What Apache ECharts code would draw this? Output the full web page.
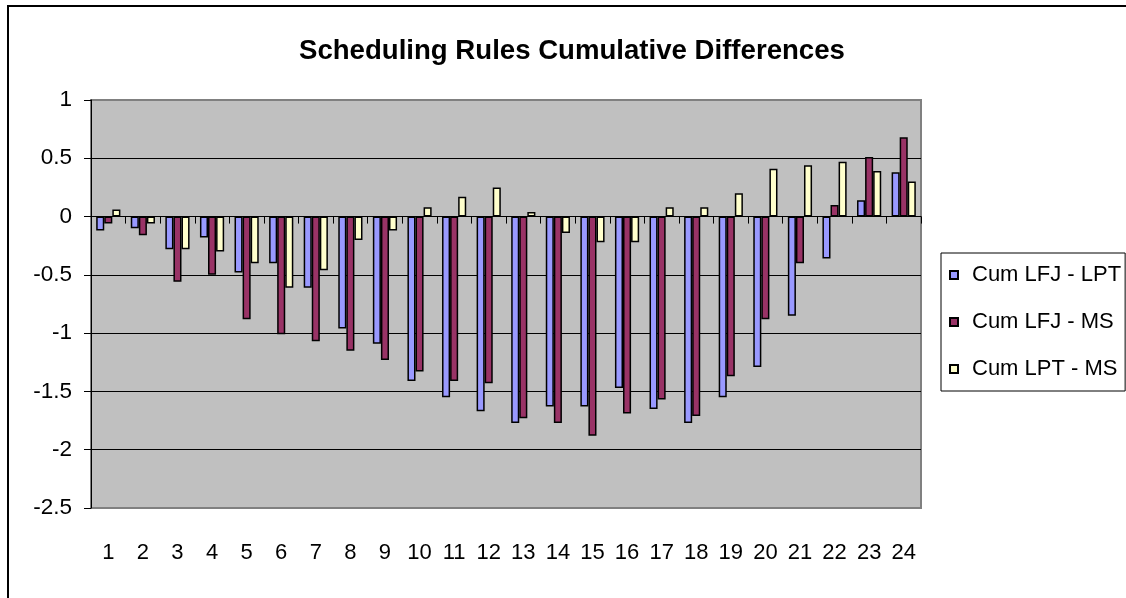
<!DOCTYPE html>
<html>
<head>
<meta charset="utf-8">
<script src="https://cdn.jsdelivr.net/npm/echarts@6/dist/echarts.min.js"></script>
<style>
  html, body { margin: 0; padding: 0; background: #fff; overflow: hidden; }
  #chart { width: 1126px; height: 598px; }
  #frame {
    position: absolute; left: 7px; top: 5px; width: 1200px; height: 700px;
    border-left: 2px solid #000; border-top: 2px solid #000; pointer-events: none;
  }
</style>
</head>
<body>
<div id="chart"></div>
<div id="frame"></div>
<script>
const categories = ['1','2','3','4','5','6','7','8','9','10','11','12','13','14','15','16','17','18','19','20','21','22','23','24']

const cumLfjLpt = [-0.12, -0.10, -0.28, -0.18, -0.48, -0.40, -0.61, -0.96, -1.09, -1.41, -1.55, -1.67,
  -1.77, -1.63, -1.63, -1.47, -1.65, -1.77, -1.55, -1.29, -0.85, -0.36, 0.14, 0.38]
const cumLfjMs = [-0.06, -0.16, -0.56, -0.50, -0.88, -1.01, -1.07, -1.15, -1.23, -1.33, -1.41, -1.43,
  -1.73, -1.77, -1.88, -1.69, -1.57, -1.71, -1.37, -0.88, -0.40, 0.10, 0.51, 0.68]
const cumLptMs = [0.06, -0.06, -0.28, -0.30, -0.40, -0.61, -0.46, -0.20, -0.12, 0.08, 0.17, 0.25,
  0.04, -0.14, -0.22, -0.22, 0.08, 0.08, 0.20, 0.41, 0.44, 0.47, 0.39, 0.30]

const FONT = "'Liberation Sans', Arial, sans-serif"

const chart = echarts.init(document.getElementById('chart'))

const barSeries = (name, data, color) => ({
  name,
  type: 'bar',
  data,
  barGap: '0%',
  barCategoryGap: '30%',
  itemStyle: { color, borderColor: '#000', borderWidth: 1.5 }
})

chart.setOption({
  animation: false,
  title: {
    text: 'Scheduling Rules Cumulative Differences',
    left: 299,
    top: 37,
    padding: 0,
    textStyle: { fontFamily: FONT, fontSize: 27.6, fontWeight: 'bold', color: '#000' }
  },
  legend: {
    orient: 'vertical',
    left: 941,
    top: 253,
    padding: [11, 4, 11, 8],
    itemWidth: 8,
    itemHeight: 8,
    itemGap: 25,
    icon: 'rect',
    borderColor: '#000',
    borderWidth: 1,
    textStyle: { fontFamily: FONT, fontSize: 22, color: '#000', lineHeight: 22, padding: [0, 0, 0, 9] }
  },
  grid: {
    left: 91,
    top: 100,
    right: 205,
    bottom: 90,
    show: true,
    backgroundColor: '#c0c0c0',
    borderColor: '#808080',
    borderWidth: 2
  },
  xAxis: [
    {
      type: 'category',
      data: categories,
      position: 'bottom',
      axisLine: { show: false, onZero: false },
      axisTick: { show: false },
      axisLabel: { margin: 34, fontFamily: FONT, fontSize: 22, color: '#000' }
    },
    {
      type: 'category',
      data: categories,
      position: 'bottom',
      axisLine: { show: true, onZero: true, lineStyle: { color: '#000', width: 1 } },
      axisTick: { show: true, length: 7, lineStyle: { color: '#000' } },
      axisLabel: { show: false }
    }
  ],
  yAxis: {
    type: 'value',
    min: -2.5,
    max: 1,
    interval: 0.5,
    axisLine: { show: true, lineStyle: { color: '#000', width: 1 } },
    axisTick: { show: true, length: 7, lineStyle: { color: '#000' } },
    axisLabel: { margin: 19, fontFamily: FONT, fontSize: 22.5, color: '#000' },
    splitLine: { show: true, showMinLine: false, showMaxLine: false, lineStyle: { color: '#000', width: 1 } }
  },
  series: [
    barSeries('Cum LFJ - LPT', cumLfjLpt, '#9999ff'),
    barSeries('Cum LFJ - MS', cumLfjMs, '#993366'),
    barSeries('Cum LPT - MS', cumLptMs, '#ffffcc')
  ]
})
</script>
</body>
</html>
